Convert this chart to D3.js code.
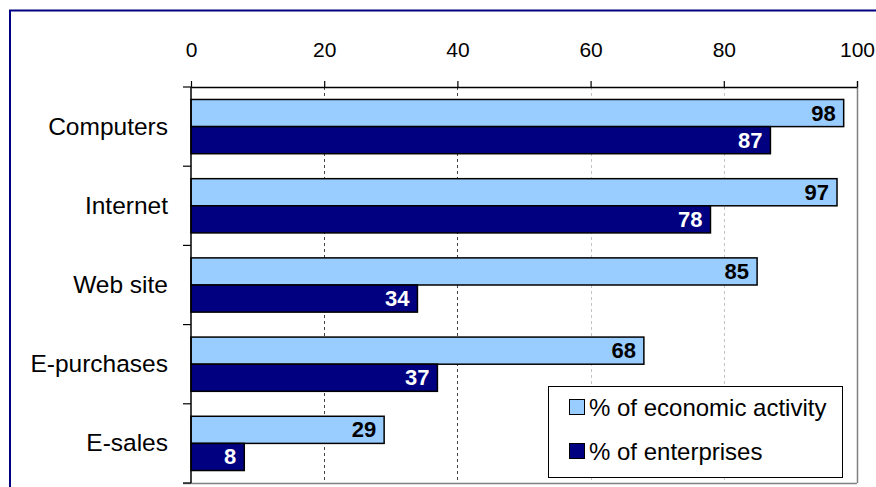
<!DOCTYPE html>
<html>
<head>
<meta charset="utf-8">
<script src="https://cdn.jsdelivr.net/npm/d3@7"></script>
<style>
  html, body { margin: 0; padding: 0; background: #fff; }
  svg { display: block; font-family: Arial, "Liberation Sans", sans-serif; }
</style>
</head>
<body>
<svg id="chart" width="876" height="487"></svg>
<script>
// ICT usage indicators, shown as percentages
const categories = ["Computers", "Internet", "Web site", "E-purchases", "E-sales"];
const seriesNames = ["% of economic activity", "% of enterprises"];
const economicActivity = [98, 97, 85, 68, 29];
const enterprises = [87, 78, 34, 37, 8];
const tickValues = [0, 20, 40, 60, 80, 100];

const colors = ["#99ccff", "#000080"];
const labelColors = ["#000", "#fff"];

const svg = d3.select("#chart");

// Outer frame
svg.append("rect")
  .attr("x", 10).attr("y", 10.5)
  .attr("width", 900).attr("height", 500)
  .attr("fill", "none").attr("stroke", "#000080").attr("stroke-width", 2);

const plot = { left: 191, right: 857, top: 87, bottom: 483 };

const x = d3.scaleLinear().domain([0, 100]).range([plot.left, plot.right]);
const y = d3.scaleBand().domain(categories).range([plot.top, plot.bottom]).padding(0);
const ySub = d3.scaleBand().domain(seriesNames)
  .range([0, y.bandwidth()]).paddingInner(0).paddingOuter(0.46);

const rows = categories.map((c, i) => ({
  category: c,
  values: [economicActivity[i], enterprises[i]]
}));

// Vertical dashed gridlines
const gridStyle = { 20: "#444", 40: "#444", 60: "#c4c4c4", 80: "#c4c4c4" };
svg.append("g").selectAll("line")
  .data([20, 40, 60, 80])
  .join("line")
  .attr("x1", d => Math.round(x(d)) + 0.5).attr("x2", d => Math.round(x(d)) + 0.5)
  .attr("y1", plot.top).attr("y2", plot.bottom)
  .attr("stroke", d => gridStyle[d])
  .attr("stroke-width", 1)
  .attr("stroke-dasharray", "3,3");

// Right and bottom frame of the plot area (grey)
svg.append("line")
  .attr("x1", plot.right + 0.5).attr("x2", plot.right + 0.5)
  .attr("y1", plot.top - 6).attr("y2", plot.bottom)
  .attr("stroke", "#808080").attr("stroke-width", 1.5);
svg.append("line")
  .attr("x1", plot.left - 8).attr("x2", plot.right)
  .attr("y1", plot.bottom + 0.5).attr("y2", plot.bottom + 0.5)
  .attr("stroke", "#808080").attr("stroke-width", 1.5);

// Bars
const groups = svg.append("g").selectAll("g")
  .data(rows)
  .join("g")
  .attr("transform", d => `translate(0,${y(d.category)})`);

groups.selectAll("rect")
  .data(d => d.values.map((v, j) => ({ v, j, s: seriesNames[j] })))
  .join("rect")
  .attr("x", x(0))
  .attr("y", d => ySub(d.s))
  .attr("width", d => x(d.v) - x(0))
  .attr("height", ySub.bandwidth())
  .attr("fill", d => colors[d.j])
  .attr("stroke", "#000")
  .attr("stroke-width", 1.5);

groups.selectAll("text")
  .data(d => d.values.map((v, j) => ({ v, j, s: seriesNames[j] })))
  .join("text")
  .attr("x", d => x(d.v) - 8)
  .attr("y", d => ySub(d.s) + ySub.bandwidth() / 2 + 7.5)
  .attr("text-anchor", "end")
  .attr("font-size", 22)
  .attr("font-weight", "bold")
  .attr("fill", d => labelColors[d.j])
  .text(d => d.v);

// Top value axis
const xAxis = d3.axisTop(x).tickValues(tickValues).tickSize(6).tickPadding(24).tickSizeOuter(0);
const gx = svg.append("g")
  .attr("transform", `translate(0,${plot.top})`)
  .call(xAxis);
gx.select(".domain").attr("stroke", "#000").attr("stroke-width", 1.5);
gx.selectAll(".tick line").attr("stroke", "#000").attr("stroke-width", 1.2);
gx.selectAll(".tick text")
  .attr("font-size", 21).attr("font-family", "Arial, 'Liberation Sans', sans-serif")
  .attr("fill", "#000");

// Left category axis: ticks at band boundaries
const boundaries = d3.range(categories.length + 1).map(i => plot.top + i * y.step());
svg.append("line")
  .attr("x1", plot.left).attr("x2", plot.left)
  .attr("y1", plot.top).attr("y2", plot.bottom)
  .attr("stroke", "#000").attr("stroke-width", 1.5);
svg.append("g").selectAll("line")
  .data(boundaries)
  .join("line")
  .attr("x1", plot.left - 8).attr("x2", plot.left)
  .attr("y1", d => d).attr("y2", d => d)
  .attr("stroke", "#000").attr("stroke-width", 1.2);

svg.append("g").selectAll("text")
  .data(categories)
  .join("text")
  .attr("x", 168)
  .attr("y", d => y(d) + y.bandwidth() / 2 + 8)
  .attr("text-anchor", "end")
  .attr("font-size", 24.5)
  .attr("fill", "#000")
  .text(d => d);

// Legend
const legend = svg.append("g");
legend.append("rect")
  .attr("x", 548.5).attr("y", 386.5).attr("width", 294).attr("height", 91)
  .attr("fill", "#fff").attr("stroke", "#000").attr("stroke-width", 1);
const items = legend.selectAll("g")
  .data(seriesNames)
  .join("g")
  .attr("transform", (d, i) => `translate(0,${i * 44})`);
items.append("rect")
  .attr("x", 569.5).attr("y", 399.5).attr("width", 15).attr("height", 15)
  .attr("fill", (d, i) => colors[i]).attr("stroke", "#000").attr("stroke-width", 1);
items.append("text")
  .attr("x", 589).attr("y", 416)
  .attr("font-size", 24)
  .attr("fill", "#000")
  .text(d => d);
</script>
</body>
</html>
